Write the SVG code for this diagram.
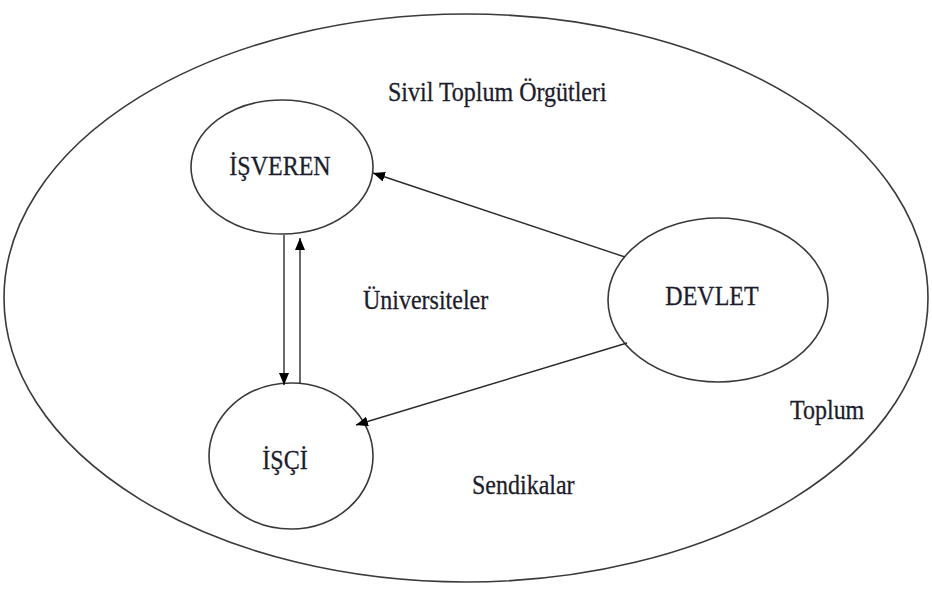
<svg xmlns="http://www.w3.org/2000/svg" width="932" height="596" viewBox="0 0 932 596">
<defs>
<style>
.shape{fill:none;stroke:#3a3a3a;stroke-width:1.6}
.edge{fill:none;stroke:#2a2a2a;stroke-width:1.4}
.t{font-family:"Liberation Serif","Times New Roman",serif;font-size:24px;fill:#1c1c2c;stroke:#1c1c2c;stroke-width:0.25}
.c{text-anchor:middle}
</style>
<marker id="ah" viewBox="0 0 12 10" refX="12" refY="5" markerWidth="12" markerHeight="10" markerUnits="userSpaceOnUse" orient="auto">
<path d="M0,0 L12,5 L0,10 Z" fill="#000"/>
</marker>
</defs>
<rect width="932" height="596" fill="#fff"/>
<g id="toplum">
<ellipse class="shape" cx="466" cy="298" rx="462" ry="284"/>
<text class="t" transform="translate(790,419) scale(1,1.18)">Toplum</text>
</g>
<g id="labels">
<text class="t" transform="translate(388,101) scale(1,1.18)">Sivil Toplum Örgütleri</text>
<text class="t" transform="translate(363,309) scale(1,1.18)">Üniversiteler</text>
<text class="t" transform="translate(472,494) scale(1,1.18)">Sendikalar</text>
</g>
<g id="isveren">
<ellipse class="shape" cx="282" cy="167" rx="91" ry="67"/>
<text class="t c" transform="translate(280,175) scale(1,1.18)">İŞVEREN</text>
</g>
<g id="isci">
<ellipse class="shape" cx="291" cy="456" rx="82" ry="73"/>
<text class="t c" transform="translate(285,469) scale(1,1.18)">İŞÇİ</text>
</g>
<g id="devlet">
<ellipse class="shape" cx="718" cy="300" rx="110" ry="82"/>
<text class="t c" transform="translate(712,305) scale(1,1.18)">DEVLET</text>
</g>
<g id="connectors">
<line class="edge" x1="284" y1="235" x2="284" y2="385" marker-end="url(#ah)"/>
<line class="edge" x1="300" y1="384" x2="300" y2="238" marker-end="url(#ah)"/>
<line class="edge" x1="625" y1="257" x2="373" y2="173" marker-end="url(#ah)"/>
<line class="edge" x1="627" y1="343" x2="356" y2="425" marker-end="url(#ah)"/>
</g>
</svg>
